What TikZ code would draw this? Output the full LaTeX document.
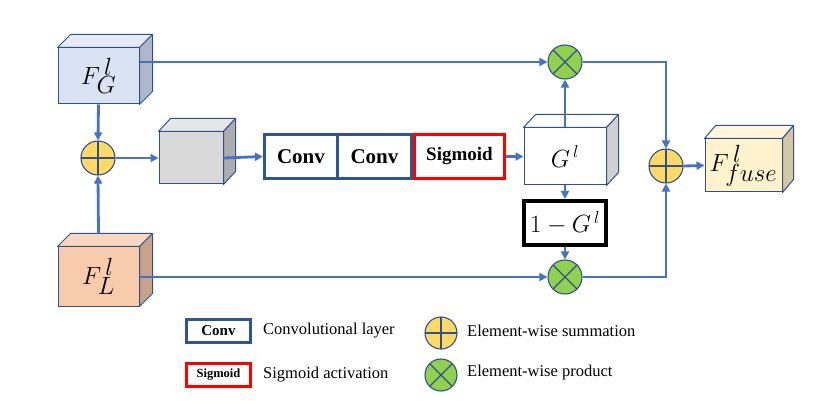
\documentclass[tikz,border=0pt]{standalone}
\usepackage{fontspec}
\setmainfont{Liberation Serif}
\usetikzlibrary{arrows.meta}
\definecolor{bord}{HTML}{2F528F}
\definecolor{arr}{HTML}{4472C4}
\definecolor{convblue}{HTML}{2F5597}
\definecolor{sigred}{HTML}{FF0000}
\definecolor{sumfill}{HTML}{FFD966}
\definecolor{prodfill}{HTML}{92D050}
\definecolor{fgfront}{HTML}{DAE3F3}
\definecolor{fgside}{HTML}{ADB9CA}
\definecolor{fgtop}{HTML}{E4EAF6}
\definecolor{flfront}{HTML}{F8CBAD}
\definecolor{flside}{HTML}{C9A28A}
\definecolor{fltop}{HTML}{F9D8C2}
\definecolor{grfront}{HTML}{D9D9D9}
\definecolor{grside}{HTML}{ADADAD}
\definecolor{grtop}{HTML}{E6E6E6}
\definecolor{gside}{HTML}{D0D0D0}
\definecolor{fufront}{HTML}{FFF2CC}
\definecolor{fuside}{HTML}{D6C7A3}
\definecolor{futop}{HTML}{FFF6DD}
\newcommand\cubefaces[5]{%
  \filldraw[cubeline, fill=#5] (#1.north west) -- ++(#2,-#3) -- ([shift={(#2,-#3)}]#1.north east) -- (#1.north east) -- cycle;
  \filldraw[cubeline, fill=#4] (#1.north east) -- ++(#2,-#3) -- ([shift={(#2,-#3)}]#1.south east) -- (#1.south east) -- cycle;}
\tikzset{
  cubeline/.style={draw=bord, line width=1pt, line join=round},
  cubefront/.style={rectangle, draw=bord, line width=1pt, inner sep=0pt},
  flow/.style={draw=arr, line width=2.8pt, -{Triangle[length=8pt,width=8pt]}},
  convbox/.style={rectangle, draw=convblue, line width=3.2pt, inner sep=0pt, minimum height=44pt, font=\bfseries\fontsize{21}{21}\selectfont},
  sigbox/.style={rectangle, draw=sigred, line width=3.2pt, inner sep=0pt, minimum height=44pt, font=\bfseries\fontsize{19}{19}\selectfont},
  sumnode/.style={circle, draw=bord, fill=sumfill, line width=1.1pt, inner sep=0pt, minimum size=#1,
    path picture={\draw[bord, line width=1.1pt] (path picture bounding box.north) -- (path picture bounding box.south) (path picture bounding box.west) -- (path picture bounding box.east);}},
  prodnode/.style={circle, draw=bord, fill=prodfill, line width=1.1pt, inner sep=0pt, minimum size=#1,
    path picture={\draw[bord, line width=1.1pt] (path picture bounding box.north west) -- (path picture bounding box.south east) (path picture bounding box.north east) -- (path picture bounding box.south west);}},
  legtext/.style={anchor=west, font=\fontsize{16.5}{16.5}\selectfont, inner sep=0pt},
}
\begin{document}
\begin{tikzpicture}[x=1pt,y=-1pt]
\useasboundingbox[fill=white] (0,0) rectangle (831,401);
% cubes
\node[cubefront, fill=fgfront, minimum width=81pt, minimum height=56pt] (fg) at (98.5,76) {\fontsize{36}{36}\selectfont$F_{G}^{\,l}$};
\cubefaces{fg}{13}{13}{fgside}{fgtop}
\node[cubefront, fill=flfront, minimum width=81pt, minimum height=59pt] (fl) at (98.5,276.5) {\fontsize{36}{36}\selectfont$F_{L}^{\,l}$};
\cubefaces{fl}{13}{13}{flside}{fltop}
\node[cubefront, fill=grfront, minimum width=64pt, minimum height=52pt] (gray) at (191,158) {};
\cubefaces{gray}{12}{13}{grside}{grtop}
\node[cubefront, fill=white, minimum width=82pt, minimum height=57pt] (g) at (565,156.5) {\fontsize{26}{26}\selectfont$G^{\,l}$};
\cubefaces{g}{12}{13}{gside}{white}
\node[cubefront, fill=fufront, minimum width=77pt, minimum height=53pt] (fuse) at (743.5,165.5) {\fontsize{35}{35}\selectfont$F_{fuse}^{\,l}$};
\cubefaces{fuse}{11}{13}{fuside}{futop}
% boxes
\node[convbox, minimum width=73pt] (conv1) at (301,156.5) {Conv};
\node[convbox, minimum width=74pt] (conv2) at (374.5,156.5) {Conv};
\node[sigbox, minimum width=90pt] (sig) at (459.5,156.5) {Sigmoid};
\node[rectangle, draw=black, line width=3.6pt, minimum width=82.5pt, minimum height=44.5pt, inner sep=0pt] (oneg) at (565,223) {\fontsize{24}{24}\selectfont$1-G^{\,l}$};
% operators
\node[sumnode=34pt] (sum1) at (98,158) {};
\node[sumnode=34pt] (sum2) at (666,166) {};
\node[prodnode=34pt] (ot1) at (565,62) {};
\node[prodnode=34pt] (ot2) at (565,277) {};
% connectors
\draw[flow] (fg.south) -- (sum1.north);
\draw[flow] ([yshift=13pt]fl.north) -- (sum1.south);
\draw[flow] (sum1.east) -- (gray.west);
\draw[flow] (gray.east) -- (conv1.west);
\draw[flow] (sig.east) -- (g.west);
\draw[flow] (g.north) -- (ot1.south);
\draw[flow] (g.south) -- (oneg.north);
\draw[flow] (oneg.south) -- (ot2.north);
\draw[flow] (fg.east |- ot1.west) -- (ot1.west);
\draw[flow] (fl.east |- ot2.west) -- (ot2.west);
\draw[flow] (ot1.east) -- (sum2 |- ot1) -- (sum2.north);
\draw[flow] (ot2.east) -- (sum2 |- ot2) -- (sum2.south);
\draw[flow] (sum2.east) -- (fuse.west);
% legend
\node[rectangle, draw=convblue, line width=3pt, minimum width=64pt, minimum height=23pt, inner sep=0pt, font=\bfseries\fontsize{15}{15}\selectfont] (legconv) at (218.5,331) {Conv};
\node[rectangle, draw=sigred, line width=3pt, minimum width=64pt, minimum height=23pt, inner sep=0pt, font=\bfseries\fontsize{12.5}{12.5}\selectfont] (legsig) at (218.5,375) {Sigmoid};
\node[legtext] (legconvt) at (263,331) {Convolutional layer};
\node[legtext] (legsigt) at (263,375) {Sigmoid activation};
\node[sumnode=32pt] (legsum) at (441,333) {};
\node[prodnode=32pt] (legprod) at (441,375) {};
\node[legtext] (legsumt) at (467,331) {Element-wise summation};
\node[legtext] (legprodt) at (467,373) {Element-wise product};
\end{tikzpicture}
\end{document}
